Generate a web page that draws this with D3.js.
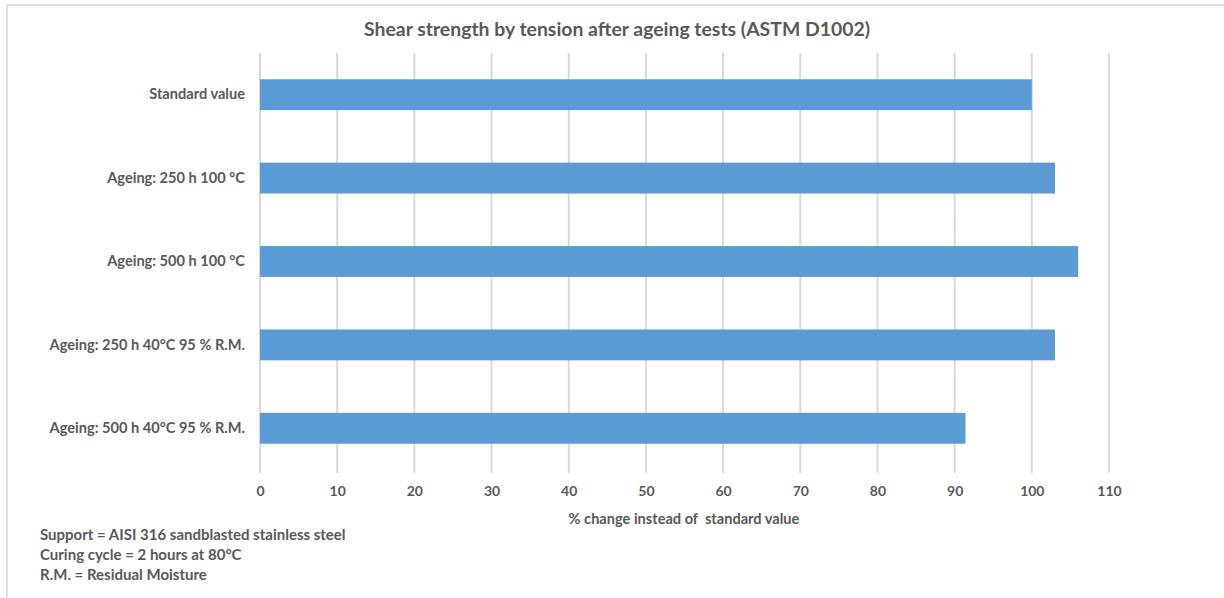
<!DOCTYPE html>
<html><head><meta charset="utf-8">
<script src="https://cdn.jsdelivr.net/npm/d3@7"></script>
<style>
body{margin:0;background:#fff;}
text{font-family:Lato,"Open Sans",sans-serif;}
</style></head>
<body><svg id="c" width="1224" height="598"></svg>
<script>
const categories = ["Standard value","Ageing: 250 h 100 °C","Ageing: 500 h 100 °C","Ageing: 250 h 40°C 95 % R.M.","Ageing: 500 h 40°C 95 % R.M."];
const values = [100, 103, 106, 103, 91.4];
const xTicks = [0,10,20,30,40,50,60,70,80,90,100,110];
const title = "Shear strength by tension after ageing tests (ASTM D1002)";
const xTitle = "% change instead of  standard value";
const notes = ["Support = AISI 316 sandblasted stainless steel","Curing cycle = 2 hours at 80°C","R.M. = Residual Moisture"];

const svg = d3.select("#c");
const m = {l:260, r:1109, t:53, b:470};
const x = d3.scaleLinear().domain([0,110]).range([m.l, m.r]);
const y = d3.scaleBand().domain(categories).range([m.t, m.b]).paddingInner(0.63).paddingOuter(0.315);

// frame
svg.append("line").attr("x1",7).attr("x2",1224).attr("y1",5).attr("y2",5).attr("stroke","#e0e0e0").attr("stroke-width",2);
svg.append("line").attr("x1",7).attr("x2",7).attr("y1",5).attr("y2",598).attr("stroke","#e0e0e0").attr("stroke-width",2);

// grid
svg.append("g").selectAll("line").data(xTicks).join("line")
  .attr("x1",d=>x(d)).attr("x2",d=>x(d)).attr("y1",m.t).attr("y2",m.b+3)
  .attr("stroke","#d9d9d9").attr("stroke-width",2);

// bars
svg.append("g").selectAll("rect").data(values).join("rect")
  .attr("x",x(0)).attr("y",(d,i)=>y(categories[i]))
  .attr("width",d=>x(d)-x(0)).attr("height",y.bandwidth())
  .attr("fill","#5b9bd5");

// x axis
const xa = svg.append("g").attr("transform",`translate(0,${m.b+3})`)
  .call(d3.axisBottom(x).tickValues(xTicks).tickSize(0).tickPadding(13));
xa.select(".domain").remove();
xa.selectAll("text").attr("font-size",14).attr("font-weight",700).attr("fill","#595959").attr("font-family","Lato,sans-serif");

// y axis
const ya = svg.append("g").attr("transform",`translate(${m.l-15},0)`)
  .call(d3.axisLeft(y).tickSize(0).tickPadding(0));
ya.select(".domain").remove();
ya.selectAll("text").attr("font-size",14.6).attr("font-weight",700).attr("fill","#595959").attr("font-family","Lato,sans-serif");

// titles
svg.append("text").attr("x",617).attr("y",36).attr("text-anchor","middle")
  .attr("font-size",19.4).attr("font-weight",700).attr("fill","#595959").text(title);
svg.append("text").attr("x",684).attr("y",524).attr("text-anchor","middle")
  .attr("font-size",14.6).attr("font-weight",700).attr("fill","#595959")
  .style("white-space","pre").text(xTitle);

svg.append("g").selectAll("text").data(notes).join("text")
  .attr("x",40).attr("y",(d,i)=>540+i*20).attr("font-size",15).attr("font-weight",700)
  .attr("fill","#595959").text(d=>d);
</script></body></html>
